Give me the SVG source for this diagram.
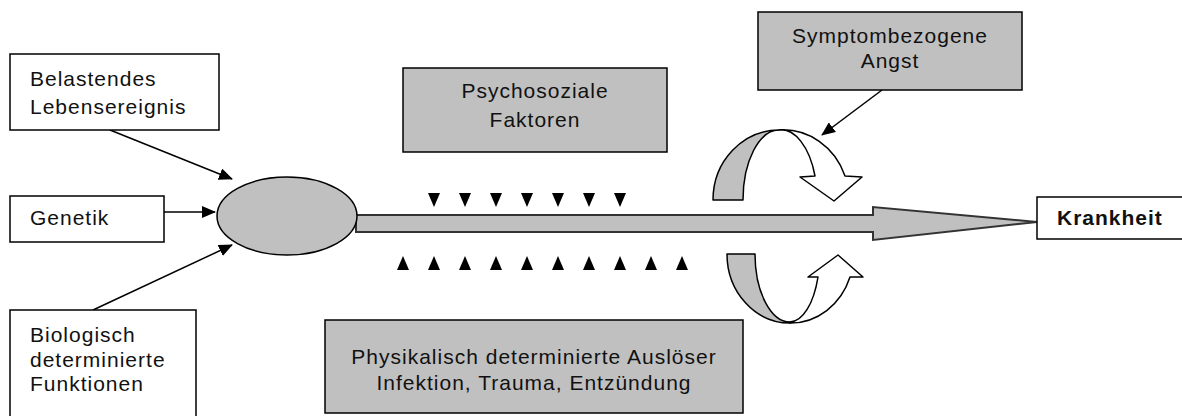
<svg xmlns="http://www.w3.org/2000/svg" width="1182" height="416" viewBox="0 0 1182 416">
<style>
.box{fill:#fff;stroke:#000;stroke-width:1.5}
.gbox{fill:#c0c0c0;stroke:#000;stroke-width:1.5}
.t{font-family:"Liberation Sans",Arial,sans-serif;font-size:21px;fill:#111;letter-spacing:1px}
.c{text-anchor:middle}
.b{font-weight:bold;letter-spacing:1px}
.conn{stroke:#000;stroke-width:1.5;fill:none;marker-end:url(#ah)}
.tri{fill:#000}
.shape{stroke:#000;stroke-width:1.5;stroke-linejoin:round}
</style>
<defs>
<marker id="ah" markerUnits="userSpaceOnUse" markerWidth="14" markerHeight="12" refX="13" refY="6" orient="auto">
<path d="M0,0 L14,6 L0,12 Z" fill="#000"/>
</marker>
<path id="tdown" d="M-6,0 L6,0 L0,14 Z"/>
<path id="tup" d="M-6,0 L6,0 L0,-14 Z"/>
</defs>

<g id="connectors">
<line class="conn" x1="110" y1="130" x2="232" y2="179"/>
<line class="conn" x1="164" y1="212" x2="215" y2="212"/>
<line class="conn" x1="93" y1="310" x2="232" y2="245"/>
<line class="conn" x1="882" y1="90" x2="822" y2="135"/>
</g>

<g id="main-arrow">
<path d="M356,215 L873,215 L873,207 L1037,222 L873,240 L873,232 L356,232 Z" fill="#c0c0c0" stroke="#333" stroke-width="2" stroke-linejoin="miter"/>
</g>

<g id="center-ellipse">
<ellipse cx="287" cy="216" rx="70" ry="39" fill="#c0c0c0" stroke="#000" stroke-width="1.5"/>
</g>

<g id="box-belastendes">
<rect class="box" x="10" y="54" width="209" height="76"/>
<text class="t" x="30" y="86">Belastendes</text>
<text class="t" x="30" y="114">Lebensereignis</text>
</g>

<g id="box-genetik">
<rect class="box" x="10" y="196" width="154" height="46"/>
<text class="t" x="30" y="225">Genetik</text>
</g>

<g id="box-biologisch">
<rect class="box" x="10" y="310" width="186" height="110"/>
<text class="t" x="30" y="342">Biologisch</text>
<text class="t" x="30" y="367">determinierte</text>
<text class="t" x="30" y="391">Funktionen</text>
</g>

<g id="box-psychosozial">
<rect class="gbox" x="403" y="68" width="264" height="84"/>
<text class="t c" x="535" y="98">Psychosoziale</text>
<text class="t c" x="535" y="127">Faktoren</text>
</g>

<g id="box-symptom">
<rect class="gbox" x="758" y="12" width="264" height="78"/>
<text class="t c" x="890" y="43">Symptombezogene</text>
<text class="t c" x="890" y="68">Angst</text>
</g>

<g id="box-physikalisch">
<rect class="gbox" x="325" y="320" width="418" height="93"/>
<text class="t c" x="534" y="364">Physikalisch determinierte Auslöser</text>
<text class="t c" x="534" y="390">Infektion, Trauma, Entzündung</text>
</g>

<g id="box-krankheit">
<rect class="box" x="1037" y="197" width="150" height="42"/>
<text class="t b" x="1057" y="225">Krankheit</text>
</g>

<g id="triangles-down" class="tri">
<use href="#tdown" x="434" y="193"/>
<use href="#tdown" x="465" y="193"/>
<use href="#tdown" x="496" y="193"/>
<use href="#tdown" x="527" y="193"/>
<use href="#tdown" x="558" y="193"/>
<use href="#tdown" x="589" y="193"/>
<use href="#tdown" x="620" y="193"/>
</g>

<g id="triangles-up" class="tri">
<use href="#tup" x="403" y="270"/>
<use href="#tup" x="434" y="270"/>
<use href="#tup" x="465" y="270"/>
<use href="#tup" x="496" y="270"/>
<use href="#tup" x="527" y="270"/>
<use href="#tup" x="558" y="270"/>
<use href="#tup" x="589" y="270"/>
<use href="#tup" x="620" y="270"/>
<use href="#tup" x="651" y="270"/>
<use href="#tup" x="682" y="270"/>
</g>

<g id="curved-arrow-top">
<path class="shape" fill="#c0c0c0" d="M713,200 A66,70 0 0 1 779,130 A36,70 0 0 0 743,200 Z"/>
<path class="shape" fill="#fff" d="M779,130 A66,70 0 0 1 845,176 L862,177 L834,201 L800,177 L815,176 A36,70 0 0 0 779,130 Z"/>
</g>

<g id="curved-arrow-bottom">
<path class="shape" fill="#c0c0c0" d="M727,254 L755,254 A35,68 0 0 0 790,322 L790,323 A63,69 0 0 1 727,254 Z"/>
<path class="shape" fill="#fff" d="M790,323 A63,69 0 0 0 850,277 L863,277 L838,255 L808,277 L818,277 A30,68 0 0 1 790,322 Z"/>
</g>
</svg>
